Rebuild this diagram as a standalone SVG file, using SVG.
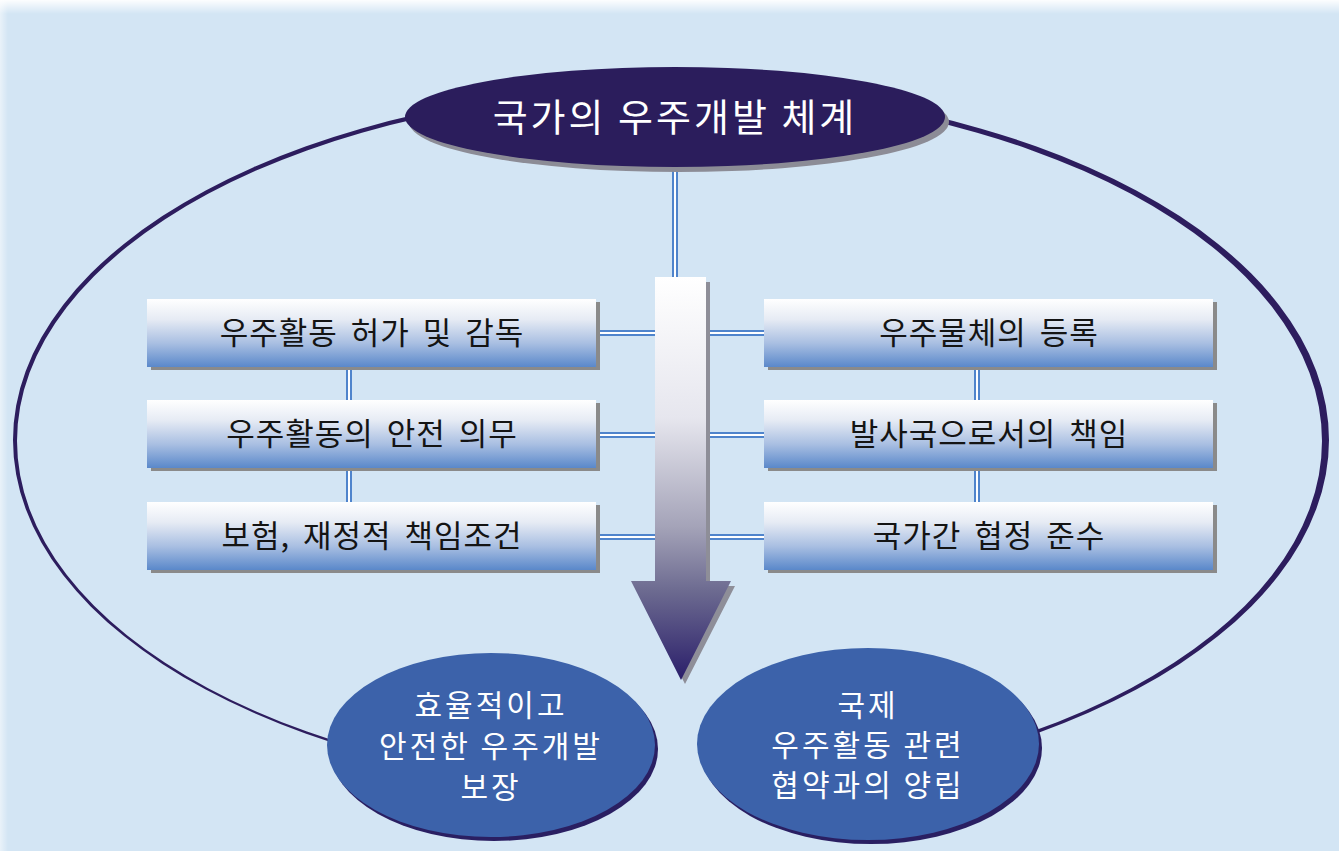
<svg xmlns="http://www.w3.org/2000/svg" width="1339" height="851" viewBox="0 0 1339 851">
<defs>
<style>
.box{fill:url(#boxGrad)}
.shadow{fill:#8a8a8a}
.btxt{font-family:"Noto Sans CJK KR","Noto Sans",sans-serif;font-size:31px;font-weight:400;fill:#141414;text-anchor:middle;letter-spacing:1px;word-spacing:5px}
.wtxt{font-family:"Noto Sans CJK KR","Noto Sans",sans-serif;font-weight:400;fill:#ffffff;text-anchor:middle}
.conOut{stroke:#4f84cc;stroke-width:6;fill:none}
.conIn{stroke:#ffffff;stroke-width:2;fill:none}
.circ{fill:#3c62aa}
.circSh{fill:#2a1f62}
</style>
<linearGradient id="boxGrad" x1="0" y1="0" x2="0" y2="1">
<stop offset="0" stop-color="#ffffff"/>
<stop offset="0.3" stop-color="#e6ebf4"/>
<stop offset="0.65" stop-color="#a9bfe2"/>
<stop offset="1" stop-color="#5a88ca"/>
</linearGradient>
<linearGradient id="arrowGrad" x1="0" y1="277" x2="0" y2="680" gradientUnits="userSpaceOnUse">
<stop offset="0" stop-color="#ffffff"/>
<stop offset="0.35" stop-color="#e6e6ee"/>
<stop offset="0.62" stop-color="#a4a3b8"/>
<stop offset="0.78" stop-color="#6c6a90"/>
<stop offset="1" stop-color="#2a1e6a"/>
</linearGradient>
<linearGradient id="topFade" x1="0" y1="0" x2="0" y2="1">
<stop offset="0" stop-color="#ffffff" stop-opacity="0.95"/>
<stop offset="1" stop-color="#ffffff" stop-opacity="0"/>
</linearGradient>
<linearGradient id="leftFade" x1="0" y1="0" x2="1" y2="0">
<stop offset="0" stop-color="#ffffff" stop-opacity="0.5"/>
<stop offset="1" stop-color="#ffffff" stop-opacity="0"/>
</linearGradient>
<clipPath id="ringClip"><rect x="0" y="0" width="1339" height="770"/></clipPath>
</defs>

<rect x="0" y="0" width="1339" height="851" fill="#d3e5f4"/>
<rect x="0" y="0" width="1339" height="14" fill="url(#topFade)"/>
<rect x="0" y="0" width="8" height="851" fill="url(#leftFade)"/>

<g id="outer-ring">
<path clip-path="url(#ringClip)" fill="#2d1d5e" fill-rule="evenodd" d="M13,440 a658,353 0 1,0 1316,0 a658,353 0 1,0 -1316,0 Z M17,441 a652.5,349.5 0 1,0 1305,0 a652.5,349.5 0 1,0 -1305,0 Z"/>
</g>

<g id="connectors">
<line class="conOut" x1="675" y1="165" x2="675" y2="278"/>
<line class="conIn" x1="675" y1="165" x2="675" y2="278"/>
<line class="conOut" x1="596" y1="333" x2="656" y2="333"/>
<line class="conIn" x1="596" y1="333" x2="656" y2="333"/>
<line class="conOut" x1="596" y1="435" x2="656" y2="435"/>
<line class="conIn" x1="596" y1="435" x2="656" y2="435"/>
<line class="conOut" x1="596" y1="537" x2="656" y2="537"/>
<line class="conIn" x1="596" y1="537" x2="656" y2="537"/>
<line class="conOut" x1="708" y1="333" x2="765" y2="333"/>
<line class="conIn" x1="708" y1="333" x2="765" y2="333"/>
<line class="conOut" x1="708" y1="435" x2="765" y2="435"/>
<line class="conIn" x1="708" y1="435" x2="765" y2="435"/>
<line class="conOut" x1="708" y1="537" x2="765" y2="537"/>
<line class="conIn" x1="708" y1="537" x2="765" y2="537"/>
<line class="conOut" x1="349" y1="366" x2="349" y2="401"/>
<line class="conIn" x1="349" y1="366" x2="349" y2="401"/>
<line class="conOut" x1="349" y1="467" x2="349" y2="503"/>
<line class="conIn" x1="349" y1="467" x2="349" y2="503"/>
<line class="conOut" x1="977" y1="366" x2="977" y2="401"/>
<line class="conIn" x1="977" y1="366" x2="977" y2="401"/>
<line class="conOut" x1="977" y1="467" x2="977" y2="503"/>
<line class="conIn" x1="977" y1="467" x2="977" y2="503"/>
</g>

<g id="title">
<ellipse cx="679" cy="122" rx="270" ry="50" fill="#8c8c96"/>
<ellipse cx="675" cy="117" rx="270" ry="50" fill="#2b1d5c"/>
<text class="wtxt" x="675" y="131" font-size="38" letter-spacing="3">국가의 우주개발 체계</text>
</g>

<g id="arrow">
<path d="M659,282 L710,282 L710,586 L735,586 L685,684 L635,586 L659,586 Z" fill="#8e8e98"/>
<path d="M655,277 L706,277 L706,581 L731,581 L681,680 L631,581 L655,581 Z" fill="url(#arrowGrad)"/>
</g>

<g id="box-l1">
<rect class="shadow" x="151" y="302" width="449" height="68"/>
<rect class="box" x="147" y="299" width="449" height="68"/>
<text class="btxt" x="372" y="344">우주활동 허가 및 감독</text>
</g>
<g id="box-l2">
<rect class="shadow" x="151" y="403" width="449" height="68"/>
<rect class="box" x="147" y="400" width="449" height="68"/>
<text class="btxt" x="372" y="445">우주활동의 안전 의무</text>
</g>
<g id="box-l3">
<rect class="shadow" x="151" y="505" width="449" height="68"/>
<rect class="box" x="147" y="502" width="449" height="68"/>
<text class="btxt" x="372" y="547">보험, 재정적 책임조건</text>
</g>
<g id="box-r1">
<rect class="shadow" x="768" y="302" width="449" height="68"/>
<rect class="box" x="764" y="299" width="449" height="68"/>
<text class="btxt" x="989" y="344">우주물체의 등록</text>
</g>
<g id="box-r2">
<rect class="shadow" x="768" y="403" width="449" height="68"/>
<rect class="box" x="764" y="400" width="449" height="68"/>
<text class="btxt" x="989" y="445">발사국으로서의 책임</text>
</g>
<g id="box-r3">
<rect class="shadow" x="768" y="505" width="449" height="68"/>
<rect class="box" x="764" y="502" width="449" height="68"/>
<text class="btxt" x="989" y="547">국가간 협정 준수</text>
</g>

<g id="goal-left">
<ellipse class="circSh" cx="494" cy="749" rx="164" ry="92"/>
<ellipse class="circ" cx="491" cy="745" rx="164" ry="92"/>
<text class="wtxt" x="491" y="716" font-size="30" letter-spacing="3">효율적이고</text>
<text class="wtxt" x="491" y="757" font-size="30" letter-spacing="3">안전한 우주개발</text>
<text class="wtxt" x="491" y="798" font-size="30" letter-spacing="3">보장</text>
</g>
<g id="goal-right">
<ellipse class="circSh" cx="871" cy="748" rx="171" ry="96"/>
<ellipse class="circ" cx="868" cy="744" rx="171" ry="96"/>
<text class="wtxt" x="868" y="716" font-size="30" letter-spacing="3">국제</text>
<text class="wtxt" x="868" y="756" font-size="30" letter-spacing="3">우주활동 관련</text>
<text class="wtxt" x="868" y="796" font-size="30" letter-spacing="3">협약과의 양립</text>
</g>
</svg>
